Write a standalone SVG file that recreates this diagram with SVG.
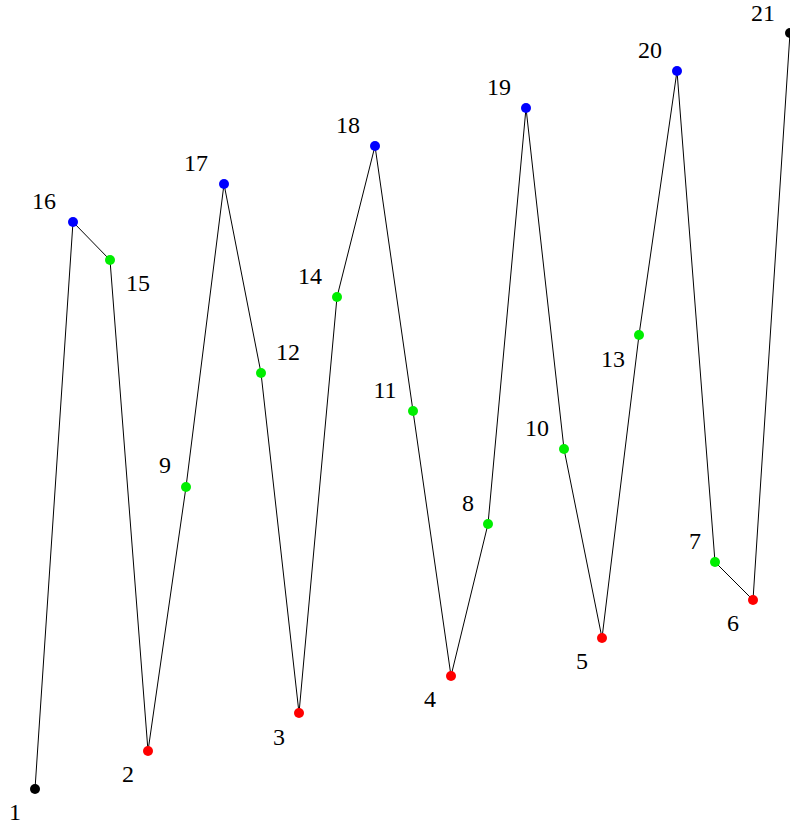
<svg xmlns="http://www.w3.org/2000/svg" width="790" height="827" viewBox="0 0 790 827">
<style>
.lbl{font-family:"Liberation Serif","DejaVu Serif",serif;font-size:24px;fill:#000;text-anchor:middle}
.k{fill:#000}.r{fill:#ff0000}.g{fill:#00ee00}.b{fill:#0000ff}
</style>
<rect width="790" height="827" fill="#fff"/>
<g id="connectors">
<polyline fill="none" stroke="#000" stroke-width="1" points="35,789 73,222 110,260 148,751 186,487 224,184 261,373 299,713 337,297 375,146 413,411 451,676 488,524 526,108 564,449 602,638 639,335 677,71 715,562 753,600 790,33"/>
</g>
<g id="n1"><circle class="k" cx="35" cy="789" r="5"/><text class="lbl" x="15" y="820">1</text></g>
<g id="n2"><circle class="r" cx="148" cy="751" r="5"/><text class="lbl" x="128" y="782">2</text></g>
<g id="n3"><circle class="r" cx="299" cy="713" r="5"/><text class="lbl" x="279" y="745">3</text></g>
<g id="n4"><circle class="r" cx="451" cy="676" r="5"/><text class="lbl" x="430" y="707">4</text></g>
<g id="n5"><circle class="r" cx="602" cy="638" r="5"/><text class="lbl" x="582" y="669">5</text></g>
<g id="n6"><circle class="r" cx="753" cy="600" r="5"/><text class="lbl" x="733" y="631">6</text></g>
<g id="n7"><circle class="g" cx="715" cy="562" r="5"/><text class="lbl" x="695" y="549">7</text></g>
<g id="n8"><circle class="g" cx="488" cy="524" r="5"/><text class="lbl" x="468" y="511">8</text></g>
<g id="n9"><circle class="g" cx="186" cy="487" r="5"/><text class="lbl" x="165" y="473">9</text></g>
<g id="n10"><circle class="g" cx="564" cy="449" r="5"/><text class="lbl" x="537" y="436">10</text></g>
<g id="n11"><circle class="g" cx="413" cy="411" r="5"/><text class="lbl" x="385" y="398">11</text></g>
<g id="n12"><circle class="g" cx="261" cy="373" r="5"/><text class="lbl" x="288" y="360">12</text></g>
<g id="n13"><circle class="g" cx="639" cy="335" r="5"/><text class="lbl" x="613" y="367">13</text></g>
<g id="n14"><circle class="g" cx="337" cy="297" r="5"/><text class="lbl" x="310" y="284">14</text></g>
<g id="n15"><circle class="g" cx="110" cy="260" r="5"/><text class="lbl" x="138" y="291">15</text></g>
<g id="n16"><circle class="b" cx="73" cy="222" r="5"/><text class="lbl" x="44" y="209">16</text></g>
<g id="n17"><circle class="b" cx="224" cy="184" r="5"/><text class="lbl" x="196" y="171">17</text></g>
<g id="n18"><circle class="b" cx="375" cy="146" r="5"/><text class="lbl" x="348" y="133">18</text></g>
<g id="n19"><circle class="b" cx="526" cy="108" r="5"/><text class="lbl" x="499" y="95">19</text></g>
<g id="n20"><circle class="b" cx="677" cy="71" r="5"/><text class="lbl" x="650" y="58">20</text></g>
<g id="n21"><circle class="k" cx="790" cy="33" r="5"/><text class="lbl" x="763" y="21">21</text></g>
</svg>
